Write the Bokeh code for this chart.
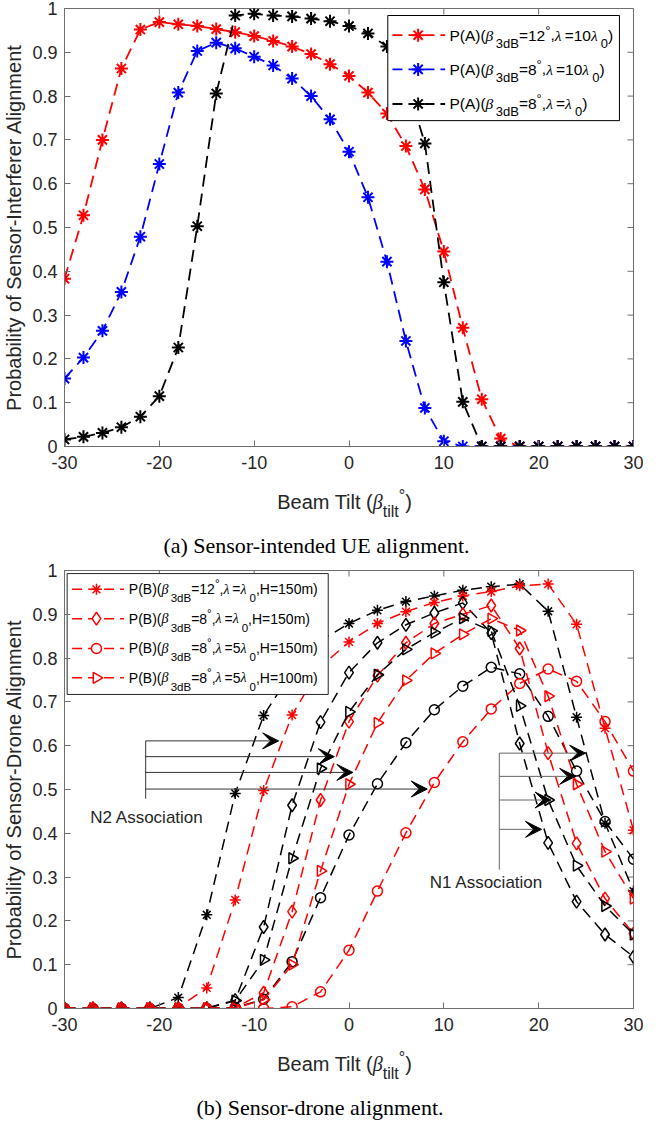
import numpy as np
from bokeh.plotting import figure
from bokeh.models import (Range1d, FixedTicker, CustomJSTickFormatter,
                          Label, Arrow, VeeHead, Div)
from bokeh.layouts import column
from bokeh.embed import file_html
from bokeh.resources import INLINE

# ---------------- data: panel (a) ----------------
xa = list(range(-30, 31, 2))
a_red = [0.383, 0.528, 0.700, 0.863, 0.952, 0.969, 0.964, 0.960, 0.953, 0.946, 0.937,
         0.926, 0.913, 0.896, 0.873, 0.846, 0.808, 0.760, 0.686, 0.587, 0.445, 0.271,
         0.108, 0.018, 0, 0, 0, 0, 0, 0, 0]
a_blue = [0.155, 0.203, 0.264, 0.353, 0.479, 0.645, 0.808, 0.903, 0.922, 0.909, 0.890,
          0.870, 0.840, 0.800, 0.747, 0.673, 0.569, 0.422, 0.241, 0.088, 0.012,
          0, 0, 0, 0, 0, 0, 0, 0, 0, 0]
a_black = [0.016, 0.022, 0.031, 0.044, 0.068, 0.115, 0.226, 0.503, 0.806, 0.984, 0.988,
           0.984, 0.982, 0.977, 0.971, 0.960, 0.943, 0.913, 0.835, 0.692, 0.375, 0.102,
           0, 0, 0, 0, 0, 0, 0, 0, 0]

# ---------------- data: panel (b) ----------------
xb = list(range(-30, 31, 3))
b_star_k = [0, 0, 0, 0, 0.025, 0.214, 0.491, 0.669, 0.770, 0.840, 0.879, 0.909, 0.929,
            0.942, 0.955, 0.963, 0.969, 0.907, 0.665, 0.423, 0.268]
b_star_r = [0, 0, 0, 0, 0.002, 0.047, 0.248, 0.498, 0.670, 0.780, 0.837, 0.879, 0.906,
            0.927, 0.942, 0.952, 0.965, 0.969, 0.877, 0.640, 0.407]
b_dia_k = [0, 0, 0, 0, 0, 0.001, 0.019, 0.186, 0.464, 0.654, 0.767, 0.835, 0.876,
           0.903, 0.926, 0.857, 0.605, 0.378, 0.244, 0.169, 0.118]
b_dia_r = [0, 0, 0, 0, 0, 0, 0.002, 0.036, 0.221, 0.476, 0.655, 0.760, 0.835,
           0.879, 0.900, 0.920, 0.822, 0.583, 0.377, 0.251, 0.171]
b_cir_k = [0, 0, 0, 0, 0, 0, 0.002, 0.021, 0.107, 0.253, 0.396, 0.513, 0.607,
           0.682, 0.736, 0.779, 0.764, 0.667, 0.542, 0.427, 0.341]
b_cir_r = [0, 0, 0, 0, 0, 0, 0, 0, 0.004, 0.038, 0.133, 0.268, 0.401,
           0.516, 0.609, 0.684, 0.742, 0.775, 0.747, 0.655, 0.542]
b_tri_k = [0, 0, 0, 0, 0, 0, 0.018, 0.111, 0.343, 0.548, 0.677, 0.762, 0.820,
           0.858, 0.891, 0.862, 0.691, 0.476, 0.326, 0.234, 0.169]
b_tri_r = [0, 0, 0, 0, 0, 0, 0.001, 0.020, 0.100, 0.314, 0.512, 0.652, 0.749,
           0.811, 0.854, 0.890, 0.863, 0.713, 0.512, 0.358, 0.251]

x_ticks = [-30, -20, -10, 0, 10, 20, 30]
y_ticks = [round(i * 0.1, 1) for i in range(11)]

ylabel_a = "Probability of Sensor-Interferer Alignment"
ylabel_b = "Probability of Sensor-Drone Alignment"
caption_a = "(a) Sensor-intended UE alignment."
caption_b = "(b) Sensor-drone alignment."

AX = "#6e6e6e"
TXT = "#262626"
SANS = "Liberation Sans"
W = 643
FRAME_H = 438

# ---------------- text helpers ----------------
AW = {' ': 278, '(': 333, ')': 333, ',': 278, '-': 333, '.': 278, '=': 584, '°': 400,
      'A': 667, 'B': 667, 'H': 722, 'P': 667, 'T': 611, 'a': 556, 'b': 556, 'd': 556,
      'e': 556, 'i': 222, 'l': 222, 'm': 833, 't': 278, 'n': 556}
GW = {'β': 0.66, 'λ': 0.64}


def tw(text, fs, kind):
    if kind == "g":
        return sum(GW.get(c, 0.6) for c in text) * fs
    return sum(AW.get(c, 556) for c in text) / 1000.0 * fs


def rich(p, x, y, segs, size, sub, color="black", sub_dy=-8, sup_dy=5):
    off = 0.0
    for t, k in segs:
        fs = size if k in ("n", "g") else sub
        dy = sub_dy if k == "sub" else (sup_dy if k == "sup" else 0)
        p.add_layout(Label(x=x, y=y, x_offset=off, y_offset=dy, text=t,
                           text_font="Liberation Serif" if k == "g" else SANS,
                           text_font_style="italic" if k == "g" else "normal",
                           text_font_size=f"{fs}px", text_color=color,
                           text_align="left", text_baseline="middle"))
        off += tw(t, fs, k)


def make_fig(top, ylabel):
    h = top + FRAME_H + 30
    p = figure(width=W, height=h, x_range=Range1d(-30, 30), y_range=Range1d(0, 1),
               output_backend="svg", toolbar_location=None,
               min_border_left=60, min_border_right=10, min_border_top=top,
               min_border_bottom=30)
    p.xgrid.visible = False
    p.ygrid.visible = False
    p.outline_line_color = AX
    for ax, ticks in ((p.xaxis[0], x_ticks), (p.yaxis[0], y_ticks)):
        ax.ticker = FixedTicker(ticks=ticks)
        ax.axis_line_color = AX
        ax.major_tick_line_color = AX
        ax.major_tick_in = 6
        ax.major_tick_out = 0
        ax.minor_tick_line_color = None
        ax.major_label_text_font = SANS
        ax.major_label_text_font_size = "18px"
        ax.major_label_text_color = TXT
    p.xaxis[0].formatter = CustomJSTickFormatter(code="return tick.toFixed(0);")
    p.yaxis[0].formatter = CustomJSTickFormatter(code="return String(Math.round(tick*10)/10);")
    p.xaxis[0].major_label_standoff = 9
    p.yaxis[0].major_label_standoff = 7
    p.yaxis[0].axis_label = ylabel
    p.yaxis[0].axis_label_text_font = SANS
    p.yaxis[0].axis_label_text_font_size = "20px"
    p.yaxis[0].axis_label_text_font_style = "normal"
    p.yaxis[0].axis_label_text_color = TXT
    p.yaxis[0].axis_label_standoff = 4
    # mirrored inward ticks on the top and right edges of the box
    tx = 6.0 / FRAME_H
    ty = 6.0 * 60 / (W - 70)
    p.segment(x0=x_ticks, y0=[1] * len(x_ticks), x1=x_ticks, y1=[1 - tx] * len(x_ticks),
              line_color=AX, line_width=1)
    p.segment(x0=[30] * len(y_ticks), y0=y_ticks, x1=[30 - ty] * len(y_ticks), y1=y_ticks,
              line_color=AX, line_width=1)
    return p


def xtitle_div():
    html = (f'<div style="width:{W}px;box-sizing:border-box;font-family:\'Liberation Sans\';'
            'font-size:20px;color:#262626;line-height:24px;padding-top:14px;padding-left:46px;'
            'text-align:center;white-space:nowrap;">Beam Tilt ('
            '<span style="font-family:\'Liberation Serif\';font-style:italic;">β</span>'
            '<span style="font-size:16px;position:relative;top:8px;">tilt</span>'
            '<span style="font-size:16px;position:relative;top:-8px;">°</span>)</div>')
    return Div(text=html, width=W, height=44, margin=0)


def caption_div(text, pad):
    html = (f'<div style="width:{W}px;box-sizing:border-box;font-family:\'Liberation Serif\';'
            'font-size:22px;color:black;line-height:26px;padding-top:13px;text-align:center;'
            f'white-space:nowrap;{pad}">{text}</div>')
    return Div(text=html, width=W, height=40, margin=0)


# ---------------- panel (a) ----------------
pa = make_fig(8, ylabel_a)
series_a = [("#ff0000", a_red), ("#0000ff", a_blue), ("#000000", a_black)]
for col, ys in series_a:
    pa.line(xa, ys, line_color=col, line_width=1.8, line_dash="12 7")
    pa.scatter(xa, ys, marker="asterisk", size=13, line_color=col, line_width=2)

pa.quad(left=[4.09], right=[28.52], top=[0.984], bottom=[0.744], fill_color="white",
        line_color="black", line_width=1)
leg_a = [
    ("#ff0000", 0.939, [("P(A)(", "n"), ("β", "g"), ("3dB", "sub"), ("=12", "n"), ("°", "sup"),
                        (",", "n"), ("λ", "g"), ("=10", "n"), ("λ", "g"), ("0", "sub"), (")", "n")]),
    ("#0000ff", 0.861, [("P(A)(", "n"), ("β", "g"), ("3dB", "sub"), ("=8", "n"), ("°", "sup"),
                        (",", "n"), ("λ", "g"), ("=10", "n"), ("λ", "g"), ("0", "sub"), (")", "n")]),
    ("#000000", 0.782, [("P(A)(", "n"), ("β", "g"), ("3dB", "sub"), ("=8", "n"), ("°", "sup"),
                        (",", "n"), ("λ", "g"), ("=", "n"), ("λ", "g"), ("0", "sub"), (")", "n")]),
]
for col, yy, segs in leg_a:
    pa.line([4.58, 10.14], [yy, yy], line_color=col, line_width=1.8, line_dash="10 6")
    pa.scatter([7.29], [yy], marker="asterisk", size=13, line_color=col, line_width=2)
    rich(pa, 10.59, yy, segs, 15.5, 13, color="black", sub_dy=-8, sup_dy=5)

# ---------------- panel (b) ----------------
pb = make_fig(10, ylabel_b)
series_b = [
    ("#000000", "asterisk", 11, b_star_k),
    ("#ff0000", "asterisk", 11, b_star_r),
    ("#000000", "diamond", 13, b_dia_k),
    ("#ff0000", "diamond", 13, b_dia_r),
    ("#000000", "circle", 10, b_cir_k),
    ("#ff0000", "circle", 10, b_cir_r),
    ("#000000", "triangle", 11, b_tri_k),
    ("#ff0000", "triangle", 11, b_tri_r),
]
for col, mk, sz, ys in series_b:
    pb.line(xb, ys, line_color=col, line_width=1.5, line_dash="11 7")
    pb.scatter(xb, ys, marker=mk, size=sz, line_color=col, fill_color=None, line_width=1.5,
               angle=(-np.pi / 2 if mk == "triangle" else 0))

pb.quad(left=[-29.72], right=[-2.19], top=[0.993], bottom=[0.717], fill_color="white",
        line_color=TXT, line_width=1)
leg_b = [
    ("asterisk", 11, 0.957, [("P(B)(", "n"), ("β", "g"), ("3dB", "sub"), ("=12", "n"), ("°", "sup"),
                             (",", "n"), ("λ", "g"), ("=", "n"), ("λ", "g"), ("0", "sub"), (",H=150m)", "n")]),
    ("diamond", 13, 0.890, [("P(B)(", "n"), ("β", "g"), ("3dB", "sub"), ("=8", "n"), ("°", "sup"),
                            (",", "n"), ("λ", "g"), ("=", "n"), ("λ", "g"), ("0", "sub"), (",H=150m)", "n")]),
    ("circle", 10, 0.822, [("P(B)(", "n"), ("β", "g"), ("3dB", "sub"), ("=8", "n"), ("°", "sup"),
                           (",", "n"), ("λ", "g"), ("=5", "n"), ("λ", "g"), ("0", "sub"), (",H=150m)", "n")]),
    ("triangle", 11, 0.755, [("P(B)(", "n"), ("β", "g"), ("3dB", "sub"), ("=8", "n"), ("°", "sup"),
                             (",", "n"), ("λ", "g"), ("=5", "n"), ("λ", "g"), ("0", "sub"), (",H=100m)", "n")]),
]
for mk, sz, yy, segs in leg_b:
    pb.line([-29.2, -23.74], [yy, yy], line_color="#ff0000", line_width=1.5, line_dash="10 6")
    pb.scatter([-26.63], [yy], marker=mk, size=sz, line_color="#ff0000", fill_color="white",
               line_width=1.5, angle=(-np.pi / 2 if mk == "triangle" else 0))
    rich(pb, -23.22, yy, segs, 14, 11.5, color="black", sub_dy=-9, sup_dy=6)

# association annotations
n2_x, n2_top, n2_bot = -21.44, 0.611, 0.479
n2_arrows = [(0.611, -7.42), (0.575, -1.55), (0.539, 0.41), (0.501, 8.25)]
n1_x, n1_top, n1_bot = 15.85, 0.583, 0.317
n1_arrows = [(0.583, 24.95), (0.530, 23.9), (0.476, 21.3), (0.409, 20.3)]
for vx, top, bot, arrows, lc in ((n2_x, n2_top, n2_bot, n2_arrows, "#333333"),
                                  (n1_x, n1_top, n1_bot, n1_arrows, "#666666")):
    pb.add_layout(Arrow(x_start=vx, y_start=top, x_end=vx, y_end=bot, end=None,
                        line_color=lc, line_width=1))
    for yy, xt in arrows:
        pb.add_layout(Arrow(x_start=vx, y_start=yy, x_end=xt, y_end=yy, line_color=lc,
                            line_width=1,
                            end=VeeHead(size=16, fill_color="black", line_color="black",
                                        line_width=1)))
pb.add_layout(Label(x=-21.3, y=0.4366, text="N2 Association", text_font=SANS,
                    text_font_size="17px", text_color=TXT, text_align="center",
                    text_baseline="middle"))
pb.add_layout(Label(x=14.5, y=0.288, text="N1 Association", text_font=SANS,
                    text_font_size="17px", text_color=TXT, text_align="center",
                    text_baseline="middle"))

layout = column(pa, xtitle_div(), caption_div(caption_a, "padding-right:10px;"),
                pb, xtitle_div(), caption_div(caption_b, "padding-right:3px;"),
                spacing=0)
open("out.html", "w").write(file_html(layout, INLINE))
